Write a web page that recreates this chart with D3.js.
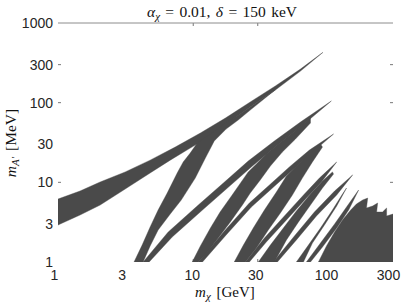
<!DOCTYPE html>
<html>
<head>
<meta charset="utf-8">
<script src="https://cdn.jsdelivr.net/npm/d3@7"></script>
<style>
  body { margin: 0; background: #fff; }
</style>
</head>
<body>
<div id="chart"></div>
<script>
const xTicks = [1, 3, 10, 30, 100, 300]
const yTicks = [1, 3, 10, 30, 100, 300, 1000]

// outlines of the resonance regions, [m_chi GeV, m_A' MeV]
const bandA = [[1,6.17],[1.455,7.78],[2.05,10.1],[3.14,13.5],[4.80,19.0],[7.36,27.7],[11.3,41.6],[17.3,64.1],[26.4,102],[40.5,162],[62.1,264],[91,428],
  [62.1,249],[40.5,144],[26.4,88.1],[18.8,58.7],[13.4,38.1],[9.5,26.9],[6.76,19.0],[4.80,13.1],[3.14,8.24],[2.05,5.19],[1.455,3.89],[1,2.91]]
const spindleB = [[3.65,1],[4.19,1.63],[4.80,2.75],[5.50,4.49],[6.42,7.34],[7.61,13.1],[8.43,18.0],[9.50,23.3],[10.7,31.1],[13.4,40.4],[17.3,55.5],[21.2,68.5],[26.4,88.1],[40.5,145],
  [26.4,80.7],[21.5,60.5],[17.5,46.6],[14.3,33.0],[12.3,20.2],[10.35,11.3],[8.15,5.99],[6.76,4.00],[5.50,2.52],[4.80,1.59],[4.26,1]]
const lineC = [[4.26,1],[6.53,2.38],[10.9,5.19],[16.7,9.80],[25.5,18.5],[39.8,33.0],[62.1,57.1],[105,105],
  [62.1,49.4],[41.2,28.5],[27.4,16.0],[17.9,8.48],[11.7,4.49],[6.99,2.06],[4.72,1]]
const spindleD = [[9.83,1],[11.3,1.59],[13.4,2.67],[15.8,4.24],[19.4,6.93],[25.5,13.5],[29.3,17.0],[34.7,22.6],[42.6,30.2],[54.1,41.6],[73.6,64.1],
  [73.6,55.5],[57.0,34.9],[45.6,24.0],[37.2,16.0],[31.3,10.7],[26.4,7.34],[23.1,5.19],[18.8,3.18],[15.3,2.00],[12.7,1.33],[10.9,1]]
const lineE = [[10.9,1],[17.0,2.45],[26.0,5.50],[36.6,9.25],[51.4,15.6],[72.3,25.4],[109,40.4],
  [73.6,22.6],[53.2,13.9],[37.8,8.24],[26.9,4.90],[17.5,2.18],[11.7,1]]
const spindleF = [[20.1,1],[23.5,1.63],[27.8,2.67],[33.6,4.49],[41.2,7.55],[48.9,12.0],[57.9,16.0],[71.1,22.0],[87.3,30.2],
  [90.3,27.7],[76.1,18.0],[64.1,11.3],[54.1,6.93],[44.1,4.12],[35.9,2.52],[29.3,1.50],[24.3,1]]
const lineG = [[24.3,1],[33.6,2.00],[47.2,3.78],[66.4,7.13],[85.7,11.3],[115,18.0],
  [88.7,10.1],[68.7,6.35],[48.9,3.37],[34.7,1.78],[26.0,1]]
const spindleH = [[30.3,1],[37.2,1.63],[46.4,2.67],[57.9,4.37],[73.6,7.13],[90.3,10.4],[107,13.5],
  [109,12.7],[90.3,8.48],[73.6,5.19],[60.0,3.18],[48.9,1.89],[39.8,1]]
const lineI = [[39.1,1],[56.0,2.12],[78.7,4.24],[111,7.78],[151,12.4],
  [115,6.93],[81.5,3.78],[57.9,1.89],[41.9,1]]
const spindleJ = [[57.9,1],[71.1,1.63],[87.3,2.67],[107,4.49],[127,7.13],[136,8.48],
  [115,5.04],[93.4,2.91],[76.1,1.73],[65.3,1]]
const lineK = [[68.7,1],[87.3,1.73],[111,3.00],[136,4.90],[167,8.00],
  [141,4.49],[115,2.67],[90.3,1.54],[73.6,1]]
const massTail = [[84.3,1],[96.7,1.59],[111,2.38],[127,3.37],[146,4.49],[161,5.34],[179,5.99],[195,6.35],[191,4.76],
  [212,5.04],[231,5.50],[227,4.24],[251,4.24],[269,4.76],[269,3.78],[300,4.00],[300,1]]

const bands = [bandA, spindleB, lineC, spindleD, lineE, spindleF, lineG, spindleH, lineI, spindleJ, lineK, massTail]

const W = 405, H = 304
const margin = {top: 23, right: 12, bottom: 42, left: 58}
const fill = "#4a4a4a"
const tickFont = "Liberation Sans, Arial, Helvetica, sans-serif"
const mathFont = "Liberation Serif, Times New Roman, serif"

const svg = d3.select("#chart").append("svg")
  .attr("width", W)
  .attr("height", H)

const x = d3.scaleLog().domain([1, 300]).range([margin.left, W - margin.right])
const y = d3.scaleLog().domain([1, 1000]).range([H - margin.bottom, margin.top])

svg.append("clipPath").attr("id", "plotClip")
  .append("rect")
  .attr("x", margin.left).attr("y", margin.top)
  .attr("width", W - margin.left - margin.right)
  .attr("height", H - margin.top - margin.bottom)

// small inner ticks, only the ones that show in the figure
const tickColor = "#777"
const g = svg.append("g")
;[10, 100, 300].forEach(v => {
  g.append("line").attr("x1", x(1)).attr("x2", x(1) + 3).attr("y1", y(v)).attr("y2", y(v)).attr("stroke", tickColor)
  g.append("line").attr("x1", x(300) - 3).attr("x2", x(300)).attr("y1", y(v)).attr("y2", y(v)).attr("stroke", tickColor)
})
;[10, 30].forEach(v => {
  g.append("line").attr("x1", x(v)).attr("x2", x(v)).attr("y1", y(1000)).attr("y2", y(1000) + 3).attr("stroke", tickColor)
  g.append("line").attr("x1", x(v)).attr("x2", x(v)).attr("y1", y(1)).attr("y2", y(1) - 3).attr("stroke", tickColor)
})
g.append("line")
  .attr("x1", x(1)).attr("x2", x(300))
  .attr("y1", y(1000)).attr("y2", y(1000))
  .attr("stroke", "#8c8c8c")

const line = d3.line()
  .x(d => x(d[0]))
  .y(d => y(d[1]))
  .curve(d3.curveLinearClosed)

svg.append("g")
  .attr("clip-path", "url(#plotClip)")
  .selectAll("path")
  .data(bands)
  .enter()
  .append("path")
  .attr("d", line)
  .attr("fill", fill)
  .attr("stroke", fill)
  .attr("stroke-width", 0.4)

// axes (labels only)
const xLabelShift = {1: -4, 3: -1, 10: -1.5, 30: -2.5, 100: -2.5, 300: -5}
const axisX = svg.append("g")
  .attr("transform", "translate(0," + y(1) + ")")
  .call(d3.axisBottom(x).tickValues(xTicks).tickSize(0).tickPadding(8).tickFormat(d3.format("d")))
axisX.select(".domain").remove()
axisX.selectAll("text")
  .attr("dx", d => xLabelShift[d])
  .style("font-family", tickFont).style("font-size", "14px").attr("fill", "#262626")

const axisY = svg.append("g")
  .attr("transform", "translate(" + x(1) + ",0)")
  .call(d3.axisLeft(y).tickValues(yTicks).tickSize(0).tickPadding(5).tickFormat(d3.format("d")))
axisY.select(".domain").remove()
axisY.selectAll("text")
  .style("font-family", tickFont).style("font-size", "14px").attr("fill", "#262626")

// title
const title = svg.append("text")
  .attr("x", 222).attr("y", 17)
  .attr("text-anchor", "middle")
  .style("font-family", mathFont).style("font-size", "15.5px").style("word-spacing", "1.5px").attr("fill", "#111")
title.append("tspan").attr("font-style", "italic").text("α")
title.append("tspan").attr("font-style", "italic").attr("font-size", "11px").attr("dy", 3).text("χ")
title.append("tspan").attr("dy", -3).text(" = 0.01, ")
title.append("tspan").attr("font-style", "italic").text("δ")
title.append("tspan").text(" = 150 keV")

// x label
const xl = svg.append("text")
  .attr("x", 225).attr("y", 297)
  .attr("text-anchor", "middle")
  .style("font-family", mathFont).style("font-size", "15px").style("word-spacing", "2px").attr("fill", "#111")
xl.append("tspan").attr("font-style", "italic").text("m")
xl.append("tspan").attr("font-style", "italic").attr("font-size", "11px").attr("dy", 3).text("χ")
xl.append("tspan").attr("dy", -3).text(" [GeV]")

// y label
const yl = svg.append("text")
  .attr("transform", "translate(16,143) rotate(-90)")
  .attr("text-anchor", "middle")
  .style("font-family", mathFont).style("font-size", "15.5px").style("word-spacing", "2px").attr("fill", "#111")
yl.append("tspan").attr("font-style", "italic").text("m")
yl.append("tspan").attr("font-style", "italic").attr("font-size", "11px").attr("dy", 3).text("A′")
yl.append("tspan").attr("dy", -3).text(" [MeV]")
</script>
</body>
</html>
